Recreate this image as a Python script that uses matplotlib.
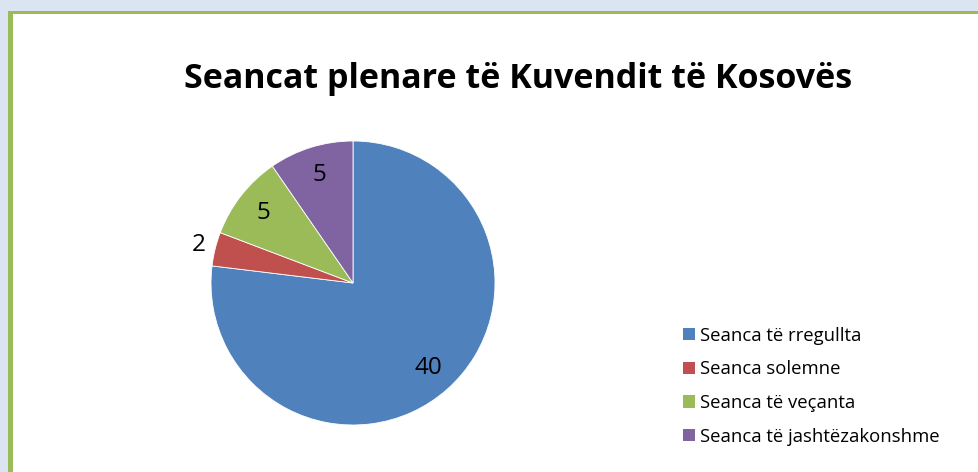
import matplotlib
matplotlib.use('Agg')
import numpy as np
from matplotlib import pyplot as plt
from matplotlib.patches import Rectangle, Patch

plt.rcParams['font.family'] = ['Open Sans', 'DejaVu Sans']

categories = ['Seanca të rregullta', 'Seanca solemne',
              'Seanca të veçanta', 'Seanca të jashtëzakonshme']
values = [40, 2, 5, 5]
colors = ['#4F81BD', '#C0504D', '#9BBB59', '#8064A2']
title = 'Seancat plenare të Kuvendit të Kosovës'

W, H = 979, 472
fig = plt.figure(figsize=(W / 100, H / 100), dpi=100)
fig.patch.set_facecolor('#DBE5F1')

# green frame + white chart area (pixel coords, y from top)
def px_rect(x0, y0, x1, y1, color):
    fig.patches.append(Rectangle((x0 / W, 1 - y1 / H), (x1 - x0) / W, (y1 - y0) / H,
                                 transform=fig.transFigure, facecolor=color,
                                 edgecolor='none', zorder=-2))

px_rect(8, 11, W, H, '#9BBB59')
px_rect(13, 14, W, H, 'white')

ax = fig.add_axes([0, 0, 1, 1])
ax.set_zorder(1)
cx, cy, r = 353, H - 283, 142
wedges, _ = ax.pie(values, colors=colors, startangle=90, counterclock=False,
                   center=(cx, cy), radius=r,
                   wedgeprops=dict(edgecolor='white', linewidth=0.6))
ax.set_xlim(0, W)
ax.set_ylim(0, H)
ax.set_aspect('equal')
ax.axis('off')

# data labels: inside for big slices, outside for the small one
for w, v in zip(wedges, values):
    ang = np.deg2rad((w.theta1 + w.theta2) / 2)
    d = 0.8 if v / sum(values) > 0.05 else 1.12
    ax.text(cx + d * r * np.cos(ang), cy + d * r * np.sin(ang), str(v),
            ha='center', va='center', fontsize=17.5, color='black')

fig.text(518 / W, 1 - 79 / H, title, ha='center', va='center',
         fontsize=24.5, fontweight='bold')

handles = [Patch(facecolor=c, edgecolor='none') for c in colors]
fig.legend(handles, categories, loc='upper left',
           bbox_to_anchor=(666 / W, 1 - 310 / H), frameon=False,
           fontsize=13.3, handlelength=0.65, handleheight=0.65,
           handletextpad=0.3, labelspacing=0.85)

fig.savefig('out.png', dpi=100)
